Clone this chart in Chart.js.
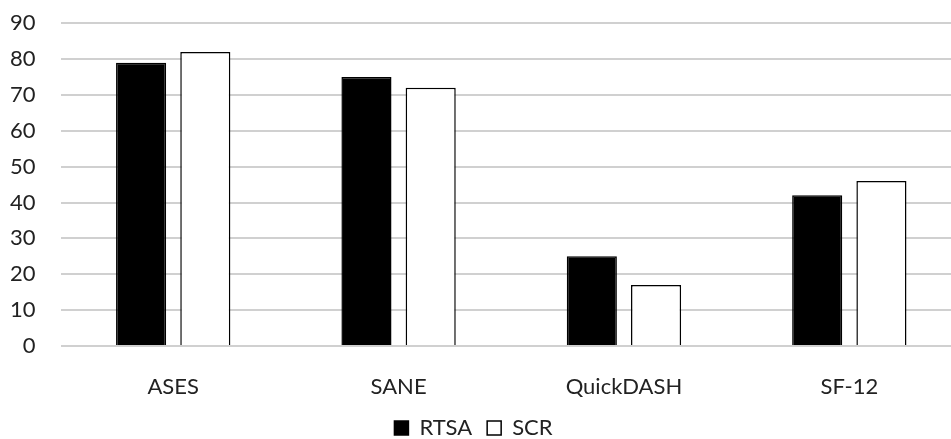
<!DOCTYPE html>
<html>
<head>
<meta charset="utf-8">
<script src="https://cdn.jsdelivr.net/npm/chart.js@4/dist/chart.umd.min.js"></script>
<style>
  html, body { margin: 0; padding: 0; background: #fff; overflow: hidden; }
  #wrap { width: 962px; height: 464px; margin-top: -15px; }
</style>
</head>
<body>
<div id="wrap"><canvas id="myChart"></canvas></div>
<script>
const categories = ['ASES', 'SANE', 'QuickDASH', 'SF-12'];
const rtsa = [79, 75, 25, 42];
const scr = [82, 72, 17, 46];
const yTicks = [0, 10, 20, 30, 40, 50, 60, 70, 80, 90];

Chart.defaults.font.family = 'Lato, "Open Sans", sans-serif';
Chart.defaults.color = '#222';

new Chart(document.getElementById('myChart'), {
    type: 'bar',
    data: {
        labels: categories,
        datasets: [{
            label: 'RTSA',
            data: rtsa,
            backgroundColor: '#000',
            borderColor: '#000',
            borderWidth: 1.5
        }, {
            label: 'SCR',
            data: scr,
            backgroundColor: '#fff',
            borderColor: '#000',
            borderWidth: 1.5
        }]
    },
    options: {
        responsive: true,
        maintainAspectRatio: false,
        animation: false,
        categoryPercentage: 0.57,
        barPercentage: 0.78,
        layout: { padding: { top: 8, left: -15, right: 0, bottom: 0 } },
        plugins: {
            legend: {
                position: 'bottom',
                labels: {
                    font: { size: 22 },
                    boxWidth: 14,
                    boxHeight: 14,
                    padding: 15,
                    color: '#222'
                }
            },
            tooltip: { enabled: false }
        },
        scales: {
            x: {
                grid: { display: false, drawTicks: false },
                border: { display: false },
                ticks: { font: { size: 22 }, padding: 28, color: '#222' },
                afterFit: (scale) => { scale.height = 56; }
            },
            y: {
                min: 0,
                max: 90,
                afterBuildTicks: (axis) => { axis.ticks = yTicks.map(v => ({ value: v })); },
                grid: { color: '#d0d0d0', lineWidth: 2, drawTicks: false },
                border: { display: false },
                ticks: { font: { size: 22 }, padding: 25, color: '#222' }
            }
        }
    }
});
</script>
</body>
</html>
